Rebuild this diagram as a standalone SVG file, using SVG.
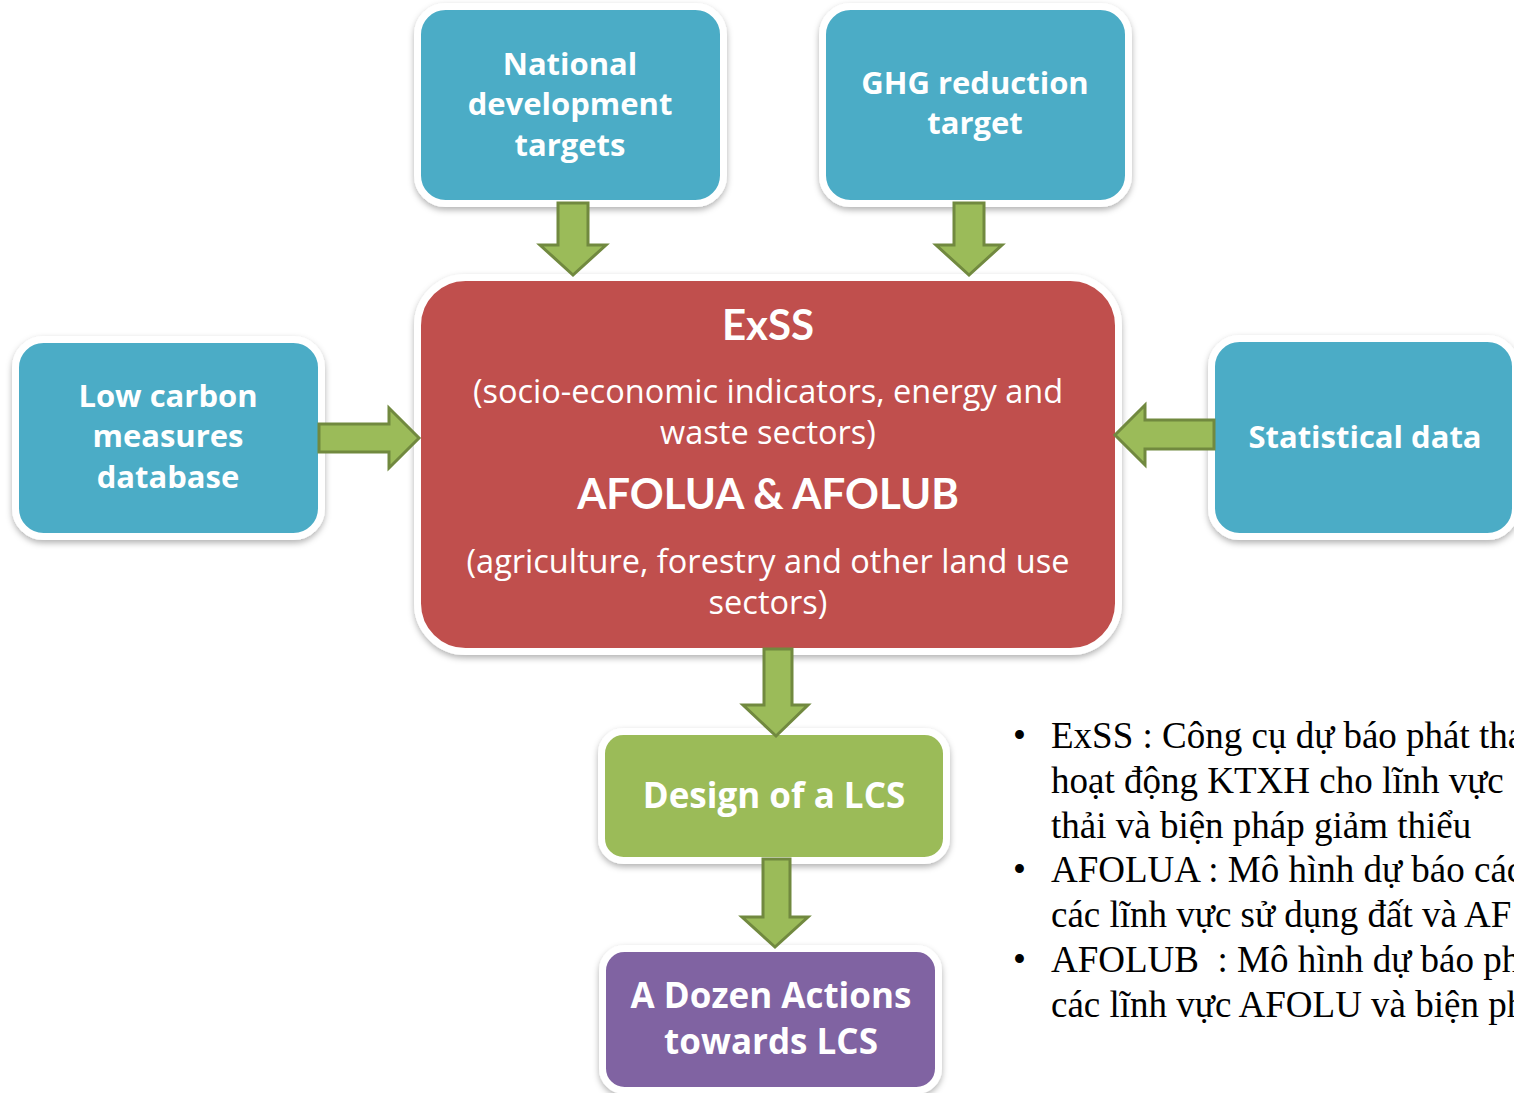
<svg xmlns="http://www.w3.org/2000/svg" width="1514" height="1093" viewBox="0 0 1514 1093">
<defs>
<filter id="sh" x="-10%" y="-10%" width="120%" height="125%">
<feDropShadow dx="0" dy="3" stdDeviation="3" flood-color="#000" flood-opacity="0.3"/>
</filter>
</defs>
<style>
.box{stroke:#fff;stroke-width:7;filter:url(#sh)}
.teal{fill:#4BACC6}
.red{fill:#C0504D}
.green{fill:#9BBB59}
.purple{fill:#8064A2}
.t{font-family:"Open Sans","Liberation Sans",sans-serif;fill:#fff;text-anchor:middle;font-weight:bold}
.l{font-family:Lato,"Liberation Sans",sans-serif;fill:#fff;text-anchor:middle;font-weight:bold}
.r{font-family:"Open Sans","Liberation Sans",sans-serif;fill:#fff;text-anchor:middle}
.arrow{fill:#9BBB59;stroke:#71893F;stroke-width:3;stroke-linejoin:miter}
.vn{font-family:"Liberation Serif","Times New Roman",serif;font-size:37px;fill:#000}
</style>
<rect width="1514" height="1093" fill="#fff"/>
<g id="national">
<rect class="box teal" x="417.5" y="6.5" width="306" height="197" rx="28"/>
<text class="t" font-size="31" x="570" y="75">National</text>
<text class="t" font-size="31" x="570" y="115">development</text>
<text class="t" font-size="31" x="570" y="156">targets</text>
</g>
<g id="ghg">
<rect class="box teal" x="822.5" y="6.5" width="306" height="197" rx="28"/>
<text class="t" font-size="31" x="975" y="94">GHG reduction</text>
<text class="t" font-size="31" x="975" y="134">target</text>
</g>
<g id="lowcarbon">
<rect class="box teal" x="15.5" y="339.5" width="306" height="197" rx="28"/>
<text class="t" font-size="31" x="168" y="407">Low carbon</text>
<text class="t" font-size="31" x="168" y="447">measures</text>
<text class="t" font-size="31" x="168" y="488">database</text>
</g>
<g id="statistical">
<rect class="box teal" x="1211.5" y="338.5" width="304" height="198" rx="28"/>
<text class="t" font-size="31" x="1365" y="448">Statistical data</text>
</g>
<g id="exss">
<rect class="box red" x="417.5" y="277.5" width="701" height="374" rx="48"/>
<text class="l" font-size="42" x="768" y="340">ExSS</text>
<text class="r" font-size="32.5" x="768" y="403">(socio-economic indicators, energy and</text>
<text class="r" font-size="32.5" x="768" y="444">waste sectors)</text>
<text class="l" font-size="42" x="768" y="509">AFOLUA &amp; AFOLUB</text>
<text class="r" font-size="32.5" x="768" y="573">(agriculture, forestry and other land use</text>
<text class="r" font-size="32.5" x="768" y="614">sectors)</text>
</g>
<g id="design">
<rect class="box green" x="601.5" y="731.5" width="345" height="129" rx="22"/>
<text class="t" font-size="35" x="774" y="808">Design of a LCS</text>
</g>
<g id="dozen">
<rect class="box purple" x="602.5" y="948.5" width="336" height="142" rx="22"/>
<text class="t" font-size="35" x="771" y="1008">A Dozen Actions</text>
<text class="t" font-size="35" x="771" y="1054">towards LCS</text>
</g>
<g id="connectors">
<polygon class="arrow" points="558,203 588,203 588,245 606,245 573,275 540,245 558,245"/>
<polygon class="arrow" points="954,203 984,203 984,245 1002,245 969,275 936,245 954,245"/>
<polygon class="arrow" points="319,424 389,424 389,408 419,438 389,468 389,452 319,452"/>
<polygon class="arrow" points="1214,420 1145,420 1145,405 1115,435 1145,465 1145,449 1214,449"/>
<polygon class="arrow" points="764,649 792,649 792,705 808,705 776,736 743,705 764,705"/>
<polygon class="arrow" points="763,859 790,859 790,917 808,917 775,947 742,917 763,917"/>
</g>
<g id="notes" class="vn">
<text x="1013" y="748">•</text>
<text x="1051" y="748">ExSS : Công cụ dự báo phát tha</text>
<text x="1051" y="793">hoạt động KTXH cho lĩnh vực</text>
<text x="1051" y="838">thải và biện pháp giảm thiểu</text>
<text x="1013" y="882">•</text>
<text x="1051" y="882">AFOLUA : Mô hình dự báo các</text>
<text x="1051" y="927">các lĩnh vực sử dụng đất và AF</text>
<text x="1013" y="972">•</text>
<text x="1051" y="972" xml:space="preserve">AFOLUB  : Mô hình dự báo ph</text>
<text x="1051" y="1017">các lĩnh vực AFOLU và biện ph</text>
</g>
</svg>
